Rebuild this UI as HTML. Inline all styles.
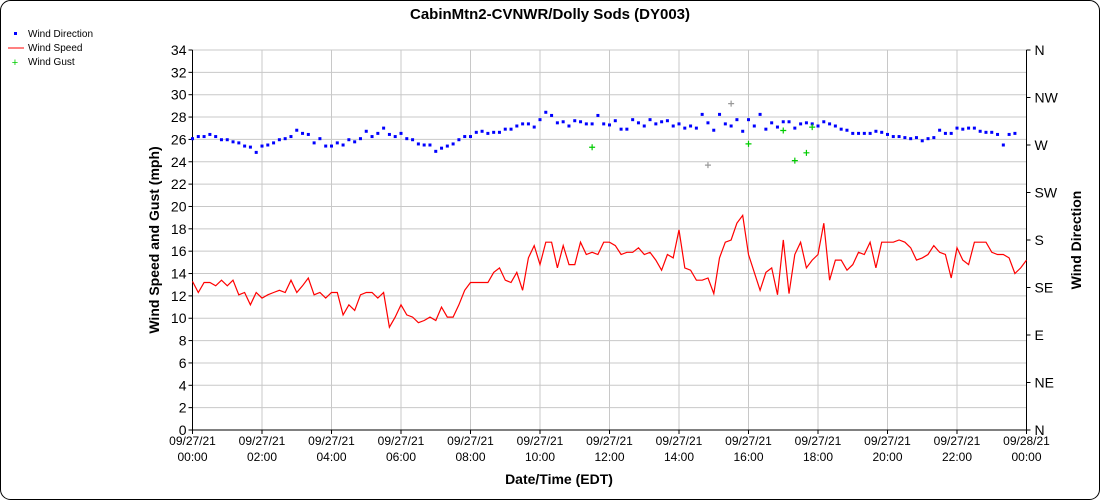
<!DOCTYPE html>
<html><head><meta charset="utf-8">
<style>
html,body{margin:0;padding:0;background:#fff;}
svg{display:block;font-family:"Liberation Sans",Arial,sans-serif;}
</style></head>
<body>
<svg id="chart" width="1100" height="500" xmlns="http://www.w3.org/2000/svg">
<rect x="0.5" y="0.5" width="1099" height="499" rx="10" ry="10" fill="#fff" stroke="#000"/>
<text x="550" y="19" text-anchor="middle" font-size="15" font-weight="bold">CabinMtn2-CVNWR/Dolly Sods (DY003)</text>
<g font-size="10">
<g><rect x="14" y="32" width="3" height="3" fill="#00f"/><text x="28" y="37">Wind Direction</text></g>
<g><line x1="8" y1="48" x2="24" y2="48" stroke="#f00"/><text x="28" y="51">Wind Speed</text></g>
<g><text x="15" y="66" fill="#0c0" text-anchor="middle" font-size="11">+</text><text x="28" y="65">Wind Gust</text></g>
</g>
<g id="grid"></g>
<g id="axes"></g>
<g id="series"></g>
<text x="559" y="484" text-anchor="middle" font-size="14" font-weight="bold">Date/Time (EDT)</text>
<text transform="translate(159,240) rotate(-90)" text-anchor="middle" font-size="14" font-weight="bold">Wind Speed and Gust (mph)</text>
<text transform="translate(1081,240) rotate(-90)" text-anchor="middle" font-size="14" font-weight="bold">Wind Direction</text>
</svg>
<script>
const speedValues=[13.3,12.3,13.2,13.2,12.9,13.4,12.9,13.4,12.1,12.3,11.2,12.3,11.8,12.1,12.3,12.5,12.3,13.4,12.3,12.9,13.6,12.1,12.3,11.8,12.3,12.3,10.3,11.2,10.7,12.1,12.3,12.3,11.8,12.3,9.2,10.1,11.2,10.3,10.1,9.6,9.8,10.1,9.8,11.0,10.1,10.1,11.2,12.5,13.2,13.2,13.2,13.2,14.1,14.5,13.4,13.2,14.1,12.5,15.4,16.5,14.8,16.8,16.8,14.5,16.5,14.8,14.8,16.8,15.7,15.9,15.7,16.8,16.8,16.5,15.7,15.9,15.9,16.3,15.7,15.9,15.2,14.3,15.7,15.4,17.9,14.5,14.3,13.4,13.4,13.6,12.2,15.4,16.8,17.0,18.5,19.2,15.7,14.1,12.5,14.1,14.5,12.1,17.0,12.2,15.7,16.8,14.5,15.2,15.7,18.5,13.4,15.2,15.2,14.3,14.8,15.9,15.7,16.8,14.5,16.8,16.8,16.8,17.0,16.8,16.3,15.2,15.4,15.7,16.5,15.9,15.7,13.6,16.3,15.2,14.8,16.8,16.8,16.8,15.9,15.7,15.7,15.4,14.0,14.5,15.2];
const directionValues=[276,278,278,280,278,275,275,273,272,269,268,263,269,270,272,275,276,278,284,281,280,272,276,269,269,272,270,275,273,276,283,278,281,286,280,278,281,276,275,271,270,270,264,267,269,271,275,278,278,282,283,281,282,282,285,285,288,290,290,287,294,301,298,291,292,288,293,292,290,290,298,290,289,293,285,285,294,291,288,294,290,292,293,288,290,286,288,286,299,291,284,299,290,288,294,283,294,288,299,285,291,287,292,292,286,290,291,290,288,292,290,288,285,284,281,281,281,281,283,282,280,278,278,277,276,277,274,276,277,284,281,281,286,285,286,286,283,282,282,280,270,280,281];
const gustIndex=[69,89,93,96,102,104,106,107];
const gustValues=[25.3,23.7,29.2,25.6,26.8,24.1,24.8,27.1];
const gustFlagged=[false,true,true,false,false,false,false,false];
const yTicks=[0,2,4,6,8,10,12,14,16,18,20,22,24,26,28,30,32,34];
const dirLabels=["N","NE","E","SE","S","SW","W","NW","N"];
const xHours=[0,2,4,6,8,10,12,14,16,18,20,22,24];
const xDates=["09/27/21","09/27/21","09/27/21","09/27/21","09/27/21","09/27/21","09/27/21","09/27/21","09/27/21","09/27/21","09/27/21","09/27/21","09/28/21"];
const xTimes=["00:00","02:00","04:00","06:00","08:00","10:00","12:00","14:00","16:00","18:00","20:00","22:00","00:00"];

const NS="http://www.w3.org/2000/svg";
const L=192.5,R=1026.5,T=50,B=430;
const xH=h=>L+(R-L)*h/24;
const xI=i=>xH(i/6);
const yS=v=>B-(B-T)*v/34;
const yD=d=>B-(B-T)*d/360;
function mk(tag,attrs,parent){const e=document.createElementNS(NS,tag);for(const k in attrs)e.setAttribute(k,attrs[k]);parent.appendChild(e);return e;}
const grid=document.getElementById('grid'),axes=document.getElementById('axes'),series=document.getElementById('series');

yTicks.forEach(v=>{
  const y=yS(v);
  if(v>0){const g=mk('line',{x1:L,x2:R,y1:y,y2:y,stroke:'#c8c8c8'},grid);
  
  }
  mk('line',{x1:L-4,x2:L,y1:y,y2:y,stroke:'#000'},axes);
  const t=mk('text',{x:L-6,y:y+5,'text-anchor':'end','font-size':14},axes);t.textContent=v;
  
  
});
dirLabels.forEach((lab,i)=>{
  const y=yD(i*45);
  mk('line',{x1:R,x2:R+4,y1:y,y2:y,stroke:'#000'},axes);
  const t=mk('text',{x:R+8,y:y+5,'font-size':14},axes);t.textContent=lab;
  
  
});
xHours.forEach((h,i)=>{
  const x=xH(h);
  if(h>0&&h<24){const g=mk('line',{x1:x,x2:x,y1:T,y2:B,stroke:'#c8c8c8'},grid);
  
  }
  mk('line',{x1:x,x2:x,y1:B,y2:B+4,stroke:'#000'},axes);
  const t1=mk('text',{x:x,y:B+15,'text-anchor':'middle','font-size':12},axes);t1.textContent=xDates[i];
  
  
  const t2=mk('text',{x:x,y:B+31,'text-anchor':'middle','font-size':12},axes);t2.textContent=xTimes[i];
  
  
});
mk('line',{x1:L,x2:L,y1:T,y2:B,stroke:'#000'},axes);
mk('line',{x1:R,x2:R,y1:T,y2:B,stroke:'#000'},axes);
mk('line',{x1:L,x2:R,y1:B,y2:B,stroke:'#000'},axes);

const pts=speedValues.map((v,i)=>xI(i).toFixed(1)+','+yS(v).toFixed(1)).join(' ');
const pl=mk('polyline',{points:pts,fill:'none',stroke:'#f00','stroke-width':1.2},series);



directionValues.forEach((d,i)=>{
  const r=mk('rect',{x:xI(i)-1.5,y:yD(d)-1.5,width:3,height:3,fill:'#00f'},series);
  
  
});
gustValues.forEach((g,k)=>{
  const x=xI(gustIndex[k]),y=yS(g),c=gustFlagged[k]?'#999':'#0c0';
  const p=mk('path',{d:`M${x-3},${y}H${x+3}M${x},${y-3}V${y+3}`,stroke:c,'stroke-width':1.2},series);
  
  
});
</script>
</body></html>
